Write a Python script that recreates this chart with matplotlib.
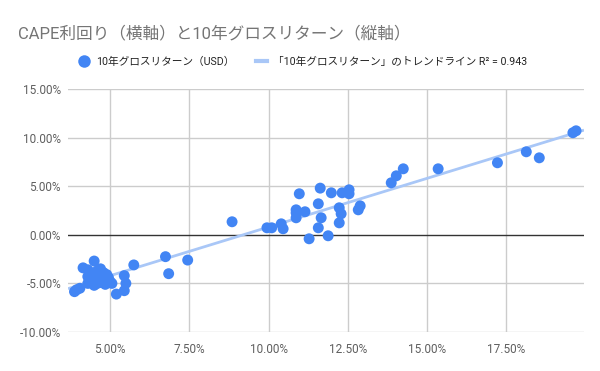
import matplotlib
matplotlib.use("Agg")
import matplotlib.pyplot as plt
import numpy as np
from matplotlib.ticker import FuncFormatter, FixedLocator
from matplotlib.lines import Line2D

plt.rcParams['font.family'] = ['Roboto', 'Noto Sans CJK JP', 'DejaVu Sans']

title = "CAPE利回り（横軸）と10年グロスリターン（縦軸）"
series_label = "10年グロスリターン（USD）"
trend_label = "「10年グロスリターン」のトレンドライン R² = 0.943"

# CAPE earnings yield (%) and 10-year gross return (%)
cape_yield = [
    19.70, 19.60, 18.54, 18.13, 17.22, 15.35, 14.25, 14.03, 13.87,
    8.85, 9.95, 10.10, 10.40, 10.46, 10.97, 10.87, 10.87, 10.87, 11.15,
    11.63, 11.57, 11.66, 11.57, 11.28, 11.88, 11.98, 12.32, 12.54, 12.54,
    12.23, 12.29, 12.23, 12.83, 12.89,
    4.50, 4.15, 4.30, 4.40, 4.30, 4.50, 4.60, 4.70, 4.80, 4.55, 4.40,
    4.60, 4.70, 4.80, 4.90, 4.95, 5.00, 4.85, 4.50, 4.30, 3.95, 3.88,
    4.05, 5.06, 5.20, 5.45, 5.50, 5.45, 5.75, 6.75, 6.85, 7.45,
]
gross_return = [
    10.70, 10.50, 7.92, 8.54, 7.41, 6.79, 6.79, 6.07, 5.35,
    1.34, 0.72, 0.72, 1.13, 0.62, 4.22, 2.57, 2.26, 1.75, 2.37,
    4.80, 3.19, 1.75, 0.72, -0.41, -0.10, 4.32, 4.32, 4.63, 4.22,
    2.78, 2.16, 1.23, 2.57, 2.98,
    -2.70, -3.40, -3.60, -3.90, -4.30, -4.20, -3.70, -3.50, -3.90, -4.60, -4.80,
    -5.00, -4.90, -4.50, -4.10, -4.40, -4.80, -5.10, -5.20, -5.00, -5.65, -5.85,
    -5.50, -5.00, -6.10, -5.75, -5.00, -4.20, -3.10, -2.25, -4.00, -2.60,
]

x_ticks = [5.0, 7.5, 10.0, 12.5, 15.0, 17.5]
y_ticks = [-10, -5, 0, 5, 10, 15]

x = np.array(cape_yield)
y = np.array(gross_return)

fig = plt.figure(figsize=(6.0, 3.71), dpi=100)
ax = fig.add_axes([68/600, 1-332/371, (584-68)/600, (332-89)/371])

xlim = (3.675, 19.95)
ax.set_xlim(*xlim)
ax.set_ylim(-10, 15)

# grid
for t in x_ticks:
    ax.axvline(t, color='#cccccc', lw=1, zorder=0)
for t in y_ticks:
    ax.axhline(t, color='#333333' if t == 0 else '#cccccc', lw=1, zorder=0.5 if t == 0 else 0)

# trend line
m, b = np.polyfit(x, y, 1)
xx = np.array(xlim)
ax.plot(xx, m*xx + b, color='#a9c7f7', lw=2, zorder=1, solid_capstyle='butt')

ax.scatter(x, y, s=62, color='#4285f4', edgecolors='none', zorder=2)

for s in ax.spines.values():
    s.set_visible(False)
ax.xaxis.set_major_locator(FixedLocator(x_ticks))
ax.yaxis.set_major_locator(FixedLocator(y_ticks))
ax.xaxis.set_major_formatter(FuncFormatter(lambda v, p: f"{v:.2f}%"))
ax.yaxis.set_major_formatter(FuncFormatter(lambda v, p: f"{v:.2f}%"))
ax.tick_params(axis='both', length=0, labelsize=8.5, colors='#5f5f5f')
ax.tick_params(axis='x', pad=8)
ax.tick_params(axis='y', pad=5)

fig.text(18/600, 1-33/371, title, fontsize=12, color='#757575', ha='left', va='center')

handles = [
    Line2D([], [], marker='o', ls='none', markersize=9, color='#4285f4', markeredgewidth=0),
    Line2D([], [], color='#a9c7f7', lw=3),
]
fig.legend(handles, [series_label, trend_label], loc='center', bbox_to_anchor=(0.505, 1-62/371),
           ncol=2, frameon=False, fontsize=7.7, labelcolor='#222222', handlelength=1.0,
           handletextpad=0.6, columnspacing=2.0)

fig.savefig("out.png", dpi=100)
